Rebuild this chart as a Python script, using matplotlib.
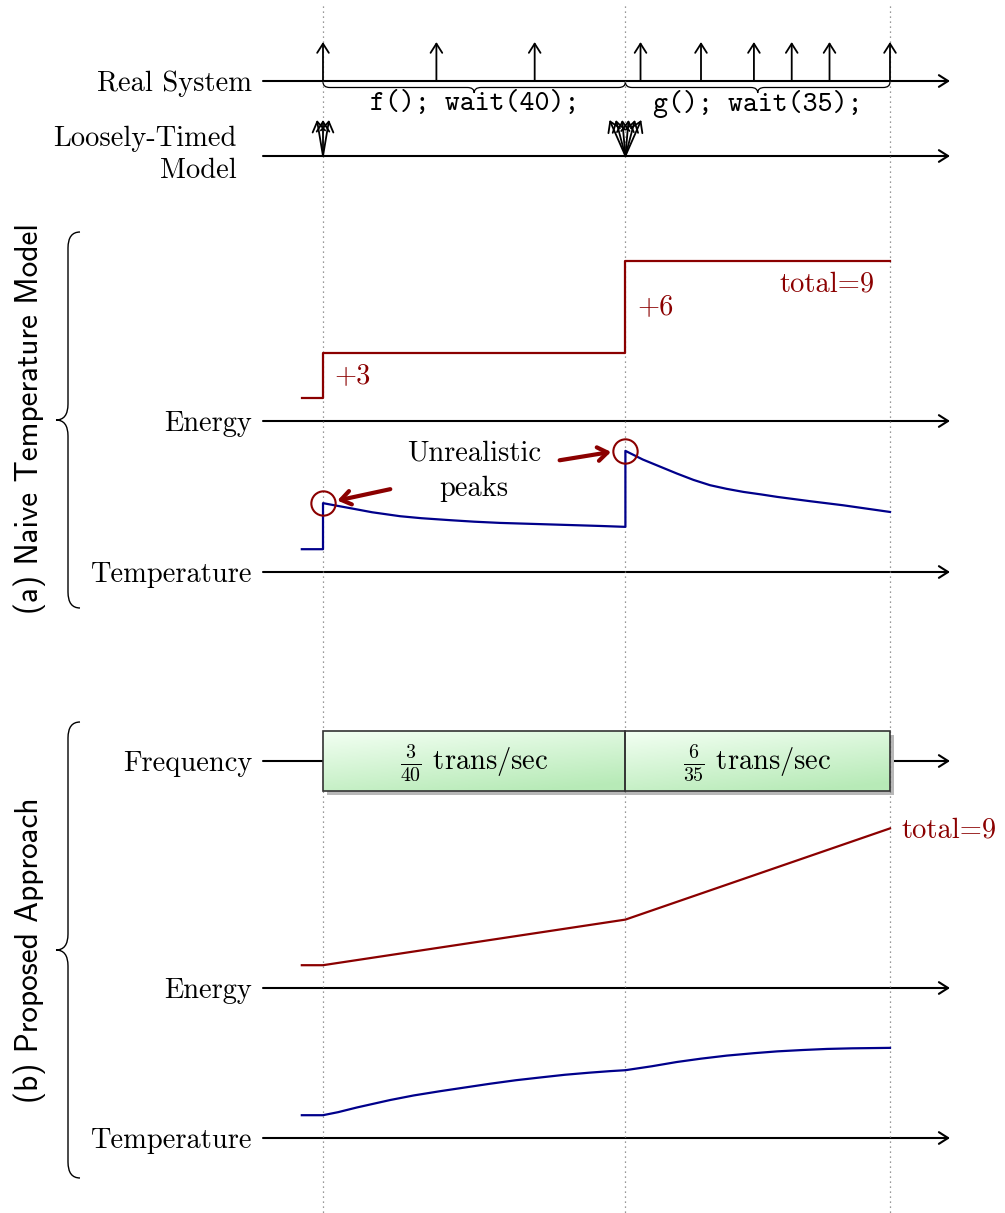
import numpy as np
import matplotlib.pyplot as plt
from matplotlib.path import Path
from matplotlib.patches import PathPatch, Rectangle

plt.rcParams['mathtext.fontset'] = 'cm'

# ---- data ----
real_events = [0, 15, 28, 42, 50, 57, 62, 67, 75]   # transactions of the real system
lt_times = [0, 40]                                   # loosely-timed model sync points
lt_counts = [3, 6]
call_start = [0, 40]
call_len = [40, 35]
call_text = ['f(); wait(40);', 'g(); wait(35);']
freq_text = [r'$\frac{3}{40}$ trans/sec', r'$\frac{6}{35}$ trans/sec']

# (a) naive model
energy_a_t = [-2.8, 0, 40, 75]
energy_a_v = [0, 3, 9, 9]
temp_a_t = [-2.8, 0, 0, 1.5, 3.6, 6.5, 10.2, 13, 16.8, 20, 23.4, 30.0, 36.6, 40,
            40, 42.3, 44.5, 46.8, 49, 51.2, 53.4, 55.6, 58, 60.1, 64.4, 68.8, 75]
temp_a_v = [0, 0, 3.03, 2.89, 2.70, 2.43, 2.17, 2.04, 1.91, 1.81, 1.73, 1.63, 1.53, 1.47,
            6.47, 5.90, 5.45, 4.98, 4.56, 4.21, 3.97, 3.77, 3.60, 3.44, 3.16, 2.89, 2.45]
peak_t = [0, 40]
peak_v = [3.03, 6.47]

# (b) proposed approach
energy_b_t = [-2.8, 0, 40, 75]
energy_b_v = [0, 0, 3, 9]
temp_b_t = [-2.8, 0, 2, 4.5, 8.9, 12, 15.5, 19, 22.1, 25.5, 28.7, 32, 35.3, 38, 40,
            43.5, 46.8, 50, 53.4, 57, 60.1, 63.5, 66.7, 70, 75]
temp_b_v = [0, 0, 0.2, 0.51, 1.0, 1.3, 1.58, 1.84, 2.07, 2.3, 2.48, 2.66, 2.8, 2.9, 2.96,
            3.22, 3.5, 3.72, 3.92, 4.08, 4.2, 4.29, 4.36, 4.4, 4.43]

# ---- layout ----
W, H = 1005, 1213
PX0, PXU = 323, 7.56          # pixel of t=0, pixels per time unit
XLIM = (-PX0 / PXU, (W - PX0) / PXU)
VU = 15.2                     # pixels per value unit in the lanes
DRED = '#8b0000'
DBLUE = '#00008b'
FS = 20.5
SERIF = 'cmr10'

fig = plt.figure(figsize=(W / 100, H / 100), dpi=100)

# pixel-coordinate axes for labels, braces and lane axes
deco = fig.add_axes([0, 0, 1, 1])
deco.set_xlim(0, W)
deco.set_ylim(H, 0)
deco.axis('off')

# time-coordinate axes (y in pixel rows)
ax = fig.add_axes([0, 0, 1, 1])
ax.patch.set_alpha(0)
ax.axis('off')

arrow_kw = dict(arrowstyle='->, head_length=0.55, head_width=0.35', lw=1.5,
                color='black', shrinkA=0, shrinkB=0, mutation_scale=12)

rows = {'Real System': 81, 'LT': 156, 'Energy_a': 421, 'Temp_a': 572,
        'Frequency': 761, 'Energy_b': 988, 'Temp_b': 1138}
names = {'Real System': 'Real System', 'Energy_a': 'Energy', 'Temp_a': 'Temperature',
         'Frequency': 'Frequency', 'Energy_b': 'Energy', 'Temp_b': 'Temperature'}
for k, r in rows.items():
    deco.annotate('', xy=(950, r), xytext=(263, r), arrowprops=arrow_kw)
    if k in names:
        deco.text(252, r, names[k], ha='right', va='center_baseline',
                  family=SERIF, fontsize=FS)
deco.text(237, 155, 'Loosely-Timed\nModel', ha='right', va='center',
          multialignment='right', family=SERIF, fontsize=FS, linespacing=1.25)


def vbrace(a, x, y0, y1, depth, r):
    h = depth / 2
    ym = (y0 + y1) / 2
    verts = [(x, y0), (x - h, y0), (x - h, y0 + r), (x - h, ym - r),
             (x - h, ym), (x - 2 * h, ym), (x - h, ym), (x - h, ym + r),
             (x - h, y1 - r), (x - h, y1), (x, y1)]
    codes = [Path.MOVETO, Path.CURVE3, Path.CURVE3, Path.LINETO,
             Path.CURVE3, Path.CURVE3, Path.CURVE3, Path.CURVE3,
             Path.LINETO, Path.CURVE3, Path.CURVE3]
    a.add_patch(PathPatch(Path(verts, codes), fill=False, lw=1.0, color='black'))


def hbrace(a, x0, x1, y, depth, r):
    h = depth / 2
    xm = (x0 + x1) / 2
    verts = [(x0, y), (x0, y + h), (x0 + r, y + h), (xm - r, y + h),
             (xm, y + h), (xm, y + 2 * h), (xm, y + h), (xm + r, y + h),
             (x1 - r, y + h), (x1, y + h), (x1, y)]
    codes = [Path.MOVETO, Path.CURVE3, Path.CURVE3, Path.LINETO,
             Path.CURVE3, Path.CURVE3, Path.CURVE3, Path.CURVE3,
             Path.LINETO, Path.CURVE3, Path.CURVE3]
    a.add_patch(PathPatch(Path(verts, codes), fill=False, lw=0.9, color='black'))


vbrace(deco, 80, 232, 608, 24, 16)
vbrace(deco, 80, 722, 1178, 24, 16)
deco.text(30, 419, '(a) Naive Temperature Model', rotation=90, ha='center',
          va='center', family='cmss10', fontsize=22.5)
deco.text(30, 950, '(b) Proposed Approach', rotation=90, ha='center',
          va='center', family='cmss10', fontsize=22.5)

# dotted sync lines
ax.vlines([0, 40, 75], 6, H, colors='#777777', linestyles=(0, (1, 3)), lw=0.9)

# real system transactions
ev_kw = dict(arrow_kw, lw=1.3)
for t in real_events:
    ax.annotate('', xy=(t, 42), xytext=(t, rows['Real System']), arrowprops=ev_kw)

# code braces
for s, l, txt in zip(call_start, call_len, call_text):
    hbrace(ax, s, s + l, 82, 11, 0.9)
    ax.text(s + l / 2, 104, txt, ha='center', va='center', family='cmtt10', fontsize=FS)

# loosely-timed model: bunched transactions
spreads = {3: 0.8, 6: 2.1}
for t, n in zip(lt_times, lt_counts):
    for off in np.linspace(-spreads[n], spreads[n], n):
        ax.annotate('', xy=(t + off, 120), xytext=(t, rows['LT']),
                    arrowprops=dict(ev_kw, lw=1.3, mutation_scale=13))

# frequency boxes
for s, l, txt in zip(call_start, call_len, freq_text):
    top, bot = 731, 791
    ax.add_patch(Rectangle((s + 0.5, top + 4), l, bot - top, color='#b8b8b8',
                           lw=0, zorder=1))
    gx, gy = np.meshgrid(np.linspace(0, 1, 100), np.linspace(0, 1, 40))
    f = np.clip(0.75 * gy + 0.35 * gx, 0, 1)[..., None]
    c0 = np.array([0.95, 1.0, 0.95])
    c1 = np.array([0.72, 0.92, 0.72])
    ax.imshow(c0 * (1 - f) + c1 * f, extent=(s, s + l, bot, top), origin='upper',
              aspect='auto', zorder=2, interpolation='bilinear')
    ax.add_patch(Rectangle((s, top), l, bot - top, fill=False, ec='#333333',
                           lw=1.2, zorder=3))
    ax.text(s + l / 2, 763, txt, ha='center', va='center', family=SERIF,
            fontsize=FS, zorder=4)

ax.set_xlim(XLIM)
ax.set_ylim(H, 0)


def lane(axis_row, top_row):
    h = axis_row - top_row
    a = fig.add_axes([0, 1 - axis_row / H, 1, h / H])
    a.patch.set_alpha(0)
    a.axis('off')
    a.set_xlim(XLIM)
    a.set_ylim(-1.5, -1.5 + h / VU)
    return a


ea = lane(rows['Energy_a'], 235)
ea.plot(energy_a_t, energy_a_v, color=DRED, lw=1.6, drawstyle='steps-post')
ea.text(1.5, 1.45, '+3', color=DRED, family=SERIF, fontsize=FS, va='center')
ea.text(41.6, 6.0, '+6', color=DRED, family=SERIF, fontsize=FS, va='center')
ea.text(73.0, 7.5, 'total=9', color=DRED, family=SERIF, fontsize=FS,
        va='center', ha='right')

ta = lane(rows['Temp_a'], 430)
ta.plot(temp_a_t, temp_a_v, color=DBLUE, lw=1.6)
ta.plot(peak_t, peak_v, 'o', ms=17.5, mfc='none', mec=DRED, mew=1.5)
ta.text(20.0, 5.15, 'Unrealistic\npeaks', ha='center', va='center',
        family=SERIF, fontsize=FS, linespacing=1.45)
red_arrow = dict(arrowstyle='->, head_length=0.5, head_width=0.35', lw=3,
                 color=DRED, shrinkA=0, shrinkB=0, mutation_scale=14)
ta.annotate('', xy=(1.9, 3.2), xytext=(8.9, 3.95), arrowprops=red_arrow)
ta.annotate('', xy=(38.1, 6.4), xytext=(31.3, 5.85), arrowprops=red_arrow)

eb = lane(rows['Energy_b'], 800)
eb.plot(energy_b_t, energy_b_v, color=DRED, lw=1.6)
eb.text(76.5, 8.85, 'total=9', color=DRED, family=SERIF, fontsize=FS, va='center')

tb = lane(rows['Temp_b'], 1020)
tb.plot(temp_b_t, temp_b_v, color=DBLUE, lw=1.6)

fig.savefig('out.png', dpi=100)
